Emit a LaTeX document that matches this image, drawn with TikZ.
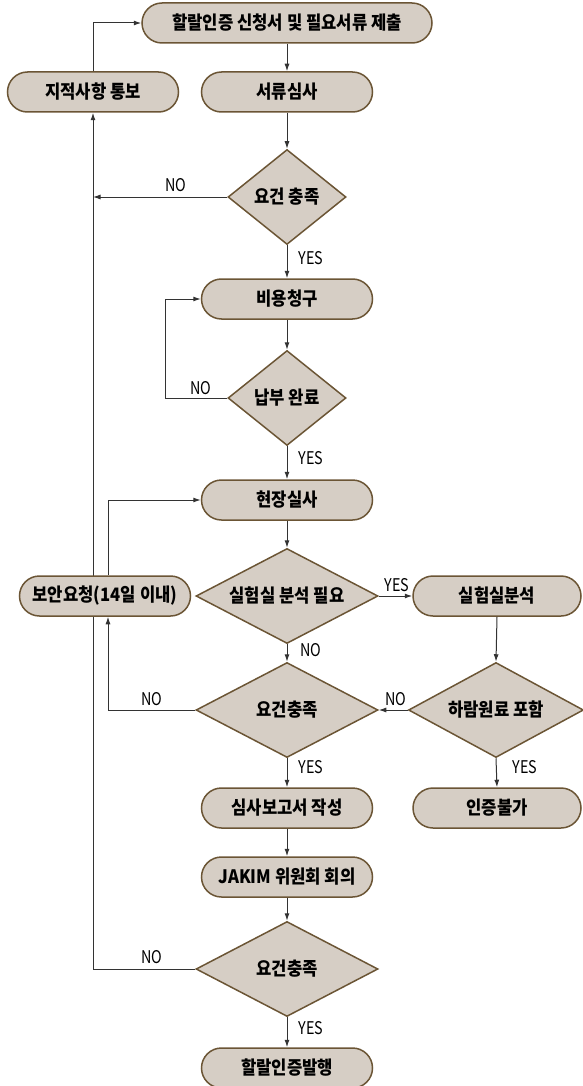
\documentclass[tikz,border=0pt]{standalone}
\usepackage{fontspec}
\setmainfont{Noto Sans CJK KR}[FakeStretch=0.9]
\newfontfamily\lblfont{Noto Sans CJK KR}[FakeStretch=0.82]
\usetikzlibrary{shapes.geometric,shapes.misc,arrows.meta}
\definecolor{boxfill}{HTML}{D6CEC5}
\definecolor{boxdraw}{HTML}{6B5535}
\definecolor{linec}{HTML}{333333}
\pgfdeclarelayer{bg}
\pgfsetlayers{bg,main}
\tikzset{
  stepbox/.style={rounded rectangle, draw=boxdraw, fill=boxfill, line width=1.5pt,
    minimum width=171pt, minimum height=40pt, inner sep=0pt,
    font=\fontsize{18.5}{20}\selectfont\bfseries},
  decide/.style={diamond, draw=boxdraw, fill=boxfill, line width=1.5pt,
    minimum width=182pt, minimum height=95pt, inner sep=0pt, aspect=1.9,
    font=\fontsize{18.5}{20}\selectfont\bfseries},
  smalldecide/.style={decide, minimum width=118pt, aspect=1.24},
  arr/.style={draw=linec, line width=1pt, -{Latex[length=7.5pt,width=5pt]}},
  lbl/.style={font=\lblfont\fontsize{17.5}{19}\selectfont, inner sep=0pt}
}
\begin{document}
\begin{tikzpicture}[x=1pt,y=-1pt]
\useasboundingbox (0,0) rectangle (583,1086);
% nodes
\node[stepbox, minimum width=290pt] (n1) at (287,23) {할랄인증 신청서 및 필요서류 제출};
\node[stepbox] (n2) at (93,92) {지적사항 통보};
\node[stepbox] (n3) at (287,92) {서류심사};
\node[smalldecide] (d1) at (287,197) {요건 충족};
\node[stepbox] (n4) at (287,299) {비용청구};
\node[smalldecide] (d2) at (287,398) {납부 완료};
\node[stepbox] (n5) at (287,500) {현장실사};
\node[decide] (d3) at (287,596) {실험실 분석 필요};
\node[stepbox] (n6) at (105,596) {보안요청(14일 이내)};
\node[stepbox, minimum width=168pt] (n7) at (497,596) {실험실분석};
\node[decide] (d4) at (287,710) {요건충족};
\node[decide, minimum width=175pt, aspect=1.84] (d5) at (496,710) {하람원료 포함};
\node[stepbox] (n8) at (287,808) {심사보고서 작성};
\node[stepbox, minimum width=168pt] (n9) at (497,808) {인증불가};
\node[stepbox] (n10) at (287,877) {JAKIM 위원회 회의};
\node[decide] (d6) at (287,969) {요건충족};
\node[stepbox] (n11) at (287,1068) {할랄인증발행};
% helper coordinates
\coordinate (j1) at (93,197);
\coordinate (c2) at (165,398);
% connectors
\begin{pgfonlayer}{bg}
\draw[arr] (d6.west) -| (n2.south);
\end{pgfonlayer}
\draw[arr] (n2.north) |- (n1.west);
\draw[arr] (n1.south) -- (n3.north);
\draw[arr] (n3.south) -- (d1.north);
\draw[arr] (d1.west) -- (j1);
\draw[arr] (d1.south) -- (n4.north);
\draw[arr] (n4.south) -- (d2.north);
\draw[arr] (d2.west) -- (c2) |- (n4.west);
\draw[arr] (d2.south) -- (n5.north);
\draw[arr] (n5.south) -- (d3.north);
\draw[arr] ([xshift=3pt]n6.north) |- (n5.west);
\draw[arr] (d3.east) -- (n7.west);
\draw[arr] (d3.south) -- (d4.north);
\draw[arr] (n7.south) -- (d5.north);
\draw[arr] (d5.west) -- (d4.east);
\draw[arr] (d4.west) -| ([xshift=3pt]n6.south);
\draw[arr] (d4.south) -- (n8.north);
\draw[arr] (d5.south) -- (n9.north);
\draw[arr] (n8.south) -- (n10.north);
\draw[arr] (n10.south) -- (d6.north);
\draw[arr] (d6.south) -- (n11.north);
% labels
\node[lbl] (l1) at (176,185) {NO};
\node[lbl] (l2) at (311,258) {YES};
\node[lbl] (l3) at (201,388) {NO};
\node[lbl] (l4) at (311,458) {YES};
\node[lbl] (l5) at (397,585) {YES};
\node[lbl] (l6) at (311,650) {NO};
\node[lbl] (l7) at (396,699) {NO};
\node[lbl] (l8) at (152,699) {NO};
\node[lbl] (l9) at (311,767) {YES};
\node[lbl] (l10) at (525,767) {YES};
\node[lbl] (l11) at (152,957) {NO};
\node[lbl] (l12) at (311,1028) {YES};
\end{tikzpicture}
\end{document}
